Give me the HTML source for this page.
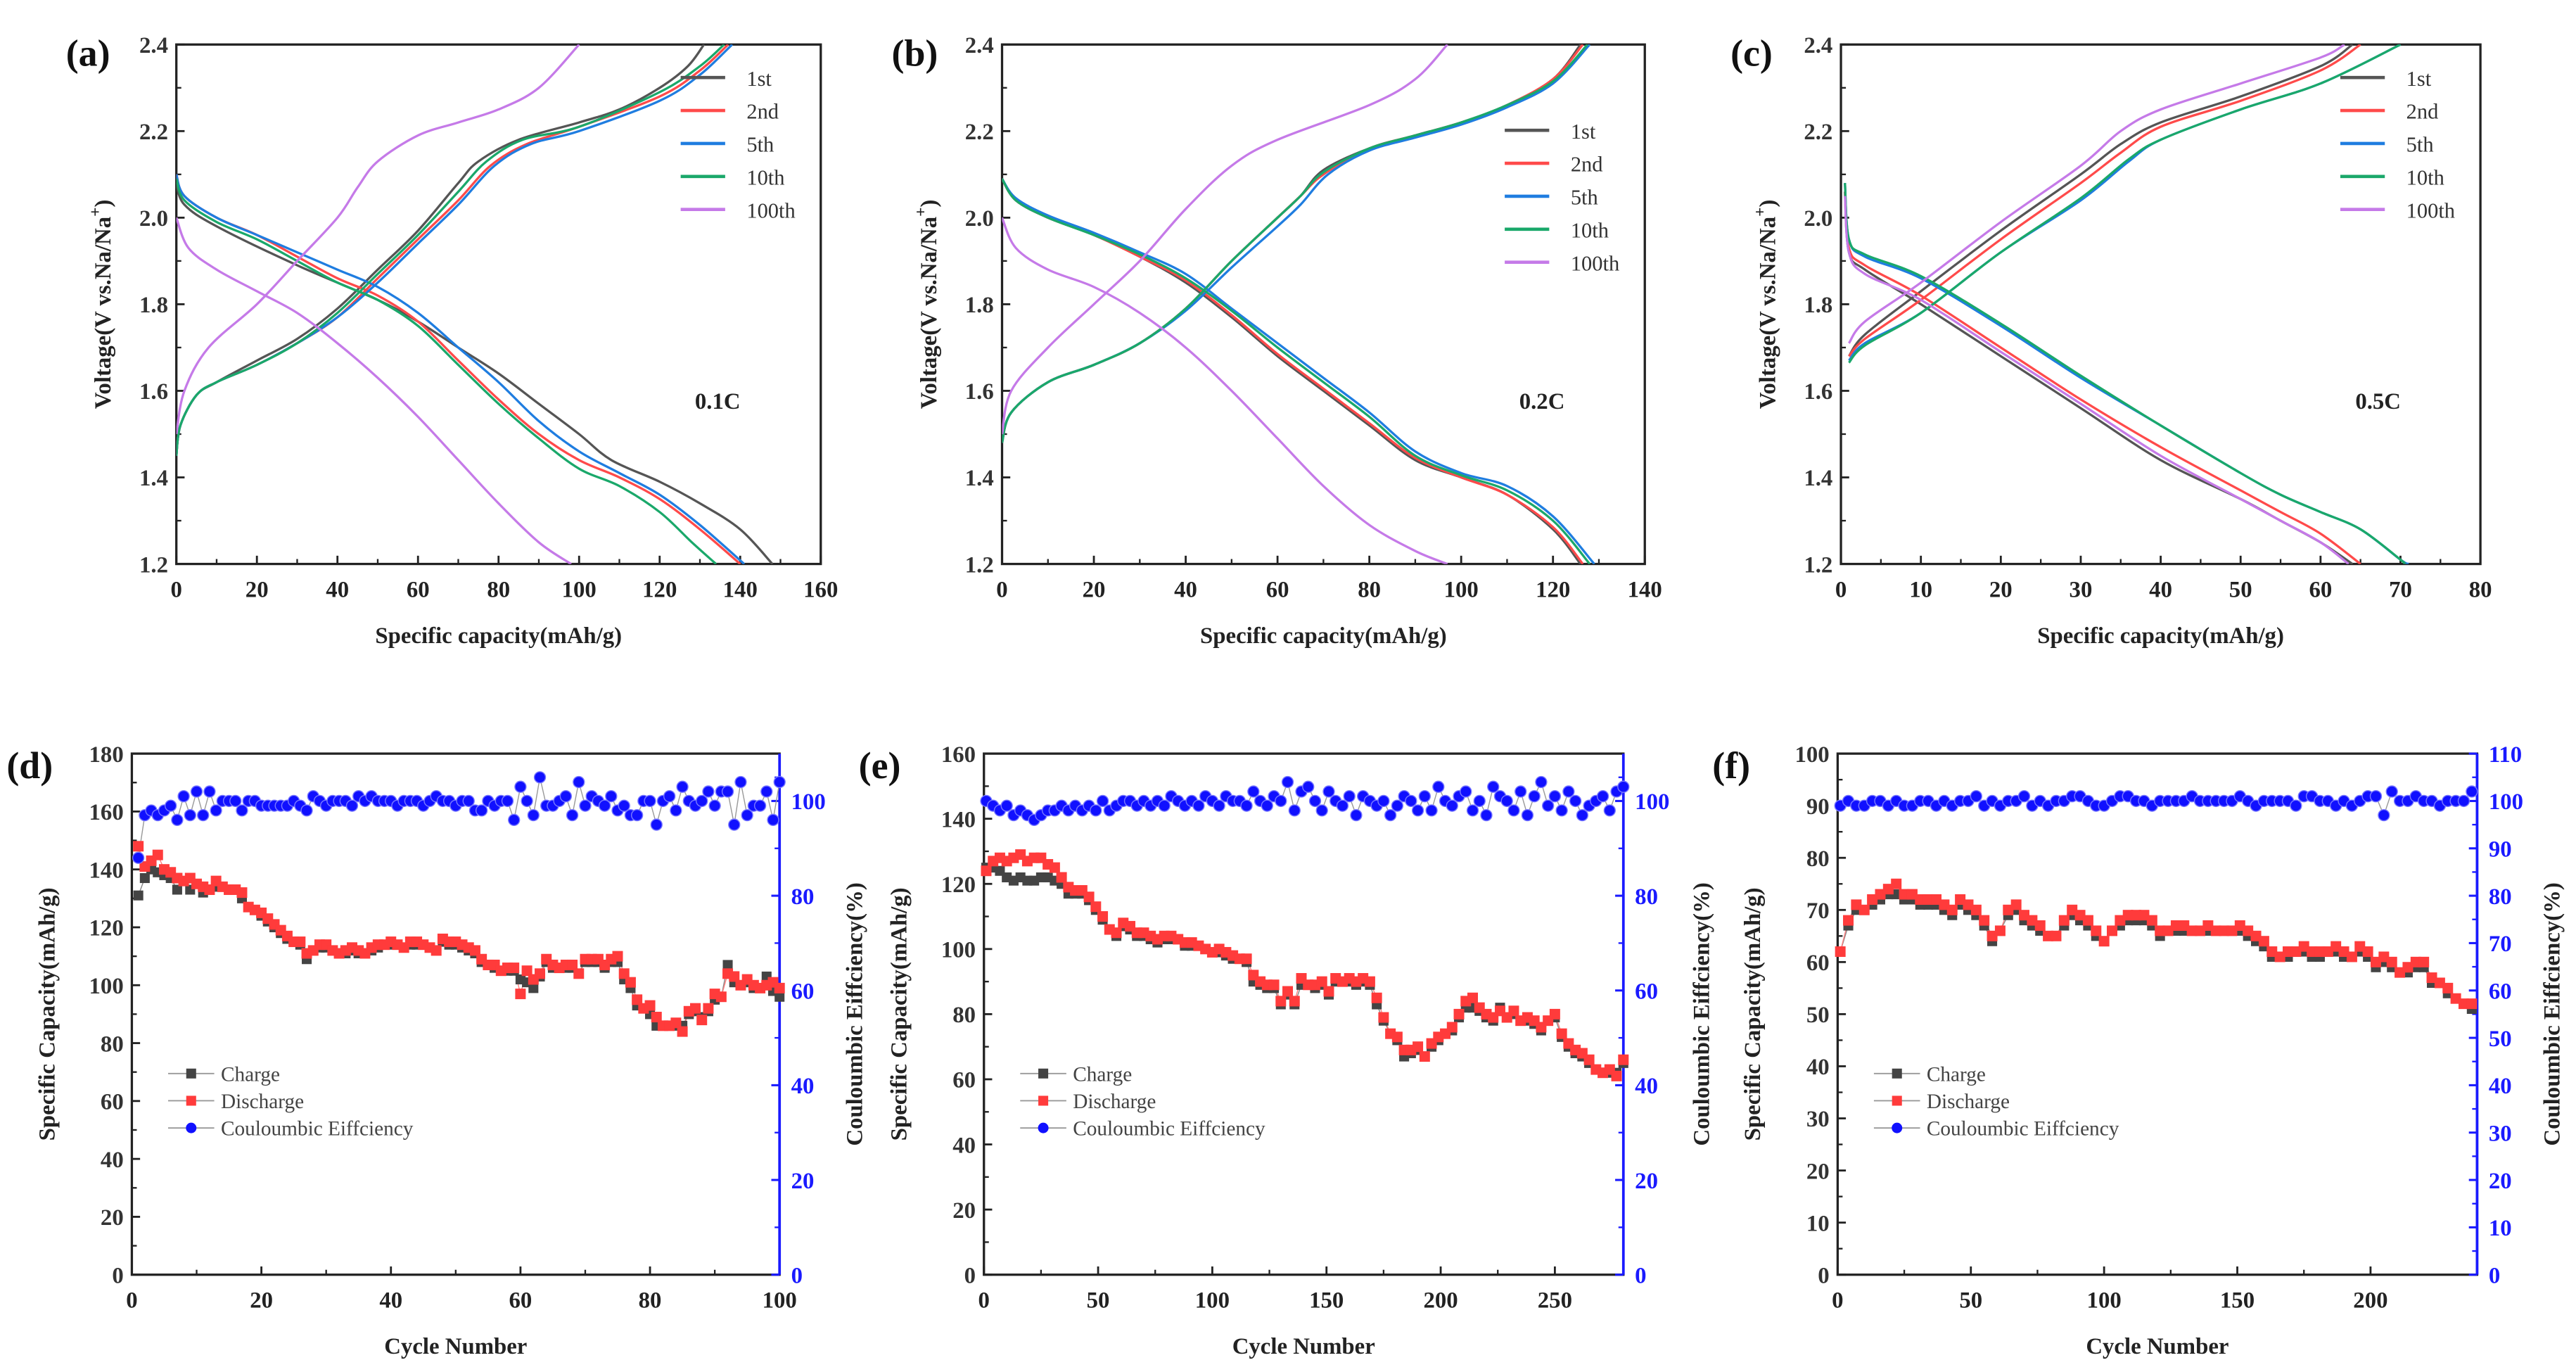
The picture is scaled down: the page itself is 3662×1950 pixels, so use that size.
<!DOCTYPE html>
<html><head><meta charset="utf-8">
<style>
html,body{margin:0;padding:0;background:#fff;}
svg{display:block;}
text{font-family:"Liberation Serif",serif;}
</style></head>
<body>
<svg id="fig" xmlns="http://www.w3.org/2000/svg" width="3662" height="1950" viewBox="0 0 1563 832" preserveAspectRatio="none"></svg>
<script>
// ===== Panel (a) 0.1C voltage profiles: [capacity, voltage]
const aDis1st=[[0,2.08],[2,2.03],[10,1.98],[30,1.89],[50,1.81],[60,1.76],[70,1.7],[80,1.64],[90,1.57],[100,1.5],[108,1.44],[120,1.39],[130,1.34],[140,1.28],[148,1.2]];
const aDis2nd=[[0,2.1],[2,2.05],[10,2.0],[20,1.96],[30,1.91],[40,1.86],[50,1.82],[60,1.76],[70,1.67],[80,1.58],[90,1.5],[100,1.44],[110,1.4],[120,1.35],[130,1.28],[140,1.2]];
const aDis5th=[[0,2.1],[2,2.05],[10,2.0],[20,1.96],[30,1.92],[40,1.88],[50,1.84],[60,1.78],[70,1.7],[80,1.62],[90,1.53],[100,1.46],[110,1.41],[120,1.36],[130,1.29],[141,1.2]];
const aDis10th=[[0,2.09],[2,2.04],[10,1.99],[20,1.95],[30,1.9],[40,1.85],[50,1.81],[60,1.75],[70,1.66],[80,1.57],[90,1.49],[100,1.42],[110,1.38],[120,1.32],[128,1.25],[134,1.2]];
const aDis100th=[[0,2.0],[3,1.93],[10,1.88],[20,1.83],[30,1.78],[40,1.71],[50,1.63],[60,1.54],[70,1.44],[80,1.34],[90,1.25],[98,1.2]];
const aChg1st=[[0,1.45],[1,1.52],[5,1.59],[10,1.62],[20,1.67],[30,1.72],[40,1.79],[50,1.88],[60,1.97],[70,2.08],[75,2.13],[85,2.18],[100,2.22],[110,2.25],[120,2.3],[127,2.35],[131,2.4]];
const aChg2nd=[[0,1.45],[1,1.52],[5,1.59],[10,1.62],[20,1.66],[30,1.71],[40,1.77],[50,1.86],[60,1.95],[70,2.04],[78,2.12],[87,2.17],[100,2.21],[120,2.28],[130,2.34],[137,2.4]];
const aChg5th=[[0,1.45],[1,1.52],[5,1.59],[10,1.62],[20,1.66],[30,1.71],[40,1.77],[50,1.85],[60,1.94],[70,2.03],[79,2.12],[88,2.17],[100,2.2],[120,2.27],[130,2.33],[138,2.4]];
const aChg10th=[[0,1.45],[1,1.52],[5,1.59],[10,1.62],[20,1.66],[30,1.71],[40,1.78],[50,1.87],[60,1.96],[70,2.06],[77,2.13],[86,2.18],[100,2.21],[120,2.29],[130,2.35],[136,2.4]];
const aChg100th=[[0,1.5],[2,1.6],[8,1.7],[20,1.8],[30,1.9],[40,2.0],[45,2.07],[50,2.13],[60,2.19],[70,2.22],[80,2.25],[90,2.3],[100,2.4]];
// ===== Panel (b) 0.2C
const bDis1st=[[0,2.09],[3,2.04],[10,2.0],[20,1.96],[30,1.91],[40,1.85],[50,1.77],[60,1.68],[70,1.6],[80,1.52],[90,1.44],[100,1.4],[110,1.36],[120,1.28],[126,1.2]];
const bDis2nd=[[0,2.09],[3,2.04],[10,2.0],[20,1.96],[30,1.91],[40,1.855],[50,1.775],[60,1.685],[70,1.605],[80,1.525],[90,1.445],[100,1.4],[110,1.36],[120,1.285],[126.5,1.2]];
const bDis5th=[[0,2.09],[3,2.045],[10,2.005],[20,1.965],[30,1.92],[40,1.87],[50,1.79],[60,1.71],[70,1.63],[80,1.55],[90,1.46],[100,1.41],[110,1.38],[120,1.31],[129,1.2]];
const bDis10th=[[0,2.09],[3,2.04],[10,2.0],[20,1.96],[30,1.915],[40,1.86],[50,1.785],[60,1.7],[70,1.62],[80,1.54],[90,1.45],[100,1.405],[110,1.37],[120,1.3],[128,1.2]];
const bDis100th=[[0,2.0],[3,1.93],[10,1.88],[20,1.84],[30,1.78],[40,1.7],[50,1.6],[60,1.49],[70,1.38],[80,1.29],[90,1.23],[97,1.2]];
const bChg1st=[[0,1.48],[2,1.55],[10,1.62],[20,1.66],[30,1.71],[40,1.79],[50,1.9],[60,2.0],[65,2.05],[70,2.11],[80,2.16],[90,2.19],[100,2.22],[110,2.26],[120,2.32],[126,2.4]];
const bChg2nd=[[0,1.48],[2,1.55],[10,1.62],[20,1.66],[30,1.71],[40,1.79],[50,1.9],[60,2.0],[65,2.05],[70,2.1],[80,2.16],[90,2.19],[100,2.22],[110,2.26],[120,2.32],[126.5,2.4]];
const bChg5th=[[0,1.48],[2,1.55],[10,1.62],[20,1.66],[30,1.71],[40,1.785],[50,1.885],[60,1.98],[65,2.03],[71,2.1],[80,2.155],[90,2.185],[100,2.215],[110,2.255],[120,2.31],[128,2.4]];
const bChg10th=[[0,1.48],[2,1.55],[10,1.62],[20,1.66],[30,1.71],[40,1.79],[50,1.9],[60,2.0],[65,2.05],[70,2.105],[80,2.16],[90,2.19],[100,2.22],[110,2.26],[120,2.315],[127.5,2.4]];
const bChg100th=[[0,1.5],[2,1.6],[10,1.7],[20,1.8],[30,1.9],[40,2.02],[50,2.12],[60,2.18],[80,2.26],[90,2.32],[97,2.4]];
// ===== Panel (c) 0.5C
const cDis1st=[[0.5,2.06],[1,1.92],[3,1.88],[10,1.8],[20,1.68],[30,1.56],[40,1.44],[50,1.35],[55,1.3],[60,1.25],[64,1.2]];
const cDis2nd=[[0.5,2.06],[1,1.93],[3,1.89],[10,1.82],[20,1.7],[30,1.58],[40,1.47],[50,1.37],[55,1.32],[60,1.27],[65,1.2]];
const cDis5th=[[0.5,2.08],[1,1.95],[3,1.91],[10,1.86],[20,1.75],[30,1.63],[40,1.52],[50,1.41],[55,1.36],[60,1.32],[65,1.28],[70,1.21],[71,1.2]];
const cDis10th=[[0.5,2.08],[1,1.95],[3,1.915],[10,1.865],[20,1.755],[30,1.635],[40,1.52],[50,1.41],[55,1.36],[60,1.32],[65,1.28],[70,1.21],[70.5,1.2]];
const cDis100th=[[0.5,2.05],[1,1.92],[3,1.87],[10,1.81],[20,1.69],[30,1.57],[40,1.45],[50,1.35],[55,1.3],[60,1.25],[63.5,1.2]];
const cChg1st=[[1,1.68],[3,1.73],[10,1.83],[20,1.97],[30,2.1],[35,2.17],[40,2.22],[50,2.28],[60,2.35],[64,2.4]];
const cChg2nd=[[1,1.68],[3,1.72],[10,1.81],[20,1.95],[30,2.08],[35,2.15],[40,2.21],[50,2.27],[60,2.34],[65,2.4]];
const cChg5th=[[1,1.67],[3,1.71],[10,1.78],[20,1.92],[30,2.04],[36,2.13],[40,2.18],[50,2.25],[60,2.31],[70,2.4]];
const cChg10th=[[1,1.665],[3,1.705],[10,1.78],[20,1.92],[30,2.045],[36,2.135],[40,2.18],[50,2.25],[60,2.31],[70,2.4]];
const cChg100th=[[1,1.71],[3,1.76],[10,1.85],[20,1.99],[30,2.12],[35,2.2],[40,2.25],[50,2.31],[60,2.37],[63,2.4]];
// ===== Panel (d) cycling 0.1C (every cycle from 1)
const dStep=1;
const dDischarge=[148,141,143,145,140,139,137,136,137,135,134,133,136,134,133,133,132,127,126,125,123,121,119,117,115,115,111,112,114,114,112,111,112,113,112,111,113,114,114,115,114,113,115,115,114,113,112,116,115,115,114,113,112,109,107,107,105,106,106,97,105,102,104,109,107,106,107,107,104,109,109,109,107,109,110,104,101,95,92,93,89,86,86,87,84,91,92,88,92,97,96,104,103,100,102,100,99,100,101,99];
const dCharge=[131,137,140,139,138,137,133,136,133,135,132,133,134,134,133,133,130,127,126,124,122,120,118,116,115,114,109,112,113,113,112,111,111,112,111,111,112,113,114,114,114,113,114,114,114,113,112,115,114,114,113,112,111,108,107,106,105,105,105,102,101,99,103,108,106,106,106,106,104,108,108,108,106,108,108,102,99,93,92,90,86,86,86,86,86,90,91,89,91,95,96,107,101,100,101,99,99,103,98,96];
const dCE=[88,97,98,97,98,99,96,101,97,102,97,102,98,100,100,100,98,100,100,99,99,99,99,99,100,99,98,101,100,99,100,100,100,99,101,100,101,100,100,100,99,100,100,100,99,100,101,100,100,99,100,100,98,98,100,99,100,100,96,103,100,97,105,99,99,100,101,97,104,99,101,100,99,101,98,99,97,97,100,100,95,100,101,98,103,100,99,100,102,99,102,102,95,104,97,99,99,102,96,104];
// ===== Panel (e) cycling 0.2C (every 3 cycles from 1)
const eStep=3;
const eDischarge=[124,127,128,127,128,129,127,128,128,126,125,122,119,118,118,116,113,110,106,105,108,107,105,105,104,103,104,104,103,102,102,101,100,99,100,99,98,97,97,92,90,89,89,84,87,84,91,89,89,90,87,91,90,91,90,91,90,85,79,74,73,69,69,70,67,71,73,74,76,80,84,85,82,80,79,81,79,81,78,79,78,76,78,80,74,71,69,68,66,63,62,63,61,66];
const eCharge=[125,125,124,122,121,122,121,121,122,122,121,120,117,117,117,115,112,109,106,104,107,106,104,104,103,102,103,103,103,101,101,101,100,99,99,98,97,97,96,90,89,88,88,83,86,83,89,89,88,89,86,90,90,90,89,90,89,83,78,74,72,67,68,69,67,70,72,74,75,79,82,82,81,79,78,82,79,80,78,78,77,75,78,79,73,70,68,67,65,63,62,62,62,65];
const eCE=[100,99,98,99,97,98,97,96,97,98,98,99,98,99,98,99,98,100,98,99,100,100,99,100,99,100,99,101,100,99,100,99,101,100,99,101,100,100,99,102,100,99,101,100,104,98,102,103,100,98,102,100,99,101,97,101,100,99,100,97,99,101,100,98,101,98,103,100,99,101,102,98,100,97,103,101,100,98,102,97,101,104,99,101,98,102,100,97,99,100,101,98,102,103];
// ===== Panel (f) cycling 0.5C (every 3 cycles from 1)
const fStep=3;
const fDischarge=[62,68,71,70,72,73,74,75,73,73,72,72,72,71,70,72,71,70,68,65,66,70,71,69,68,67,65,65,68,70,69,68,66,64,66,68,69,69,69,68,66,66,67,67,66,66,67,66,66,66,67,66,65,64,62,61,62,62,63,62,62,62,63,62,61,63,62,60,61,60,58,59,60,60,57,56,55,53,52,52];
const fCharge=[62,67,70,70,71,72,73,73,72,72,71,71,71,70,69,71,70,69,67,64,66,69,70,68,67,66,65,65,67,69,68,67,65,64,66,67,68,68,68,67,65,66,66,66,66,66,66,66,66,66,66,65,64,63,61,61,61,62,62,61,61,62,62,61,61,62,61,59,60,59,58,58,59,59,56,56,54,53,52,51];
const fCE=[99,100,99,99,100,100,99,100,99,99,100,100,99,100,99,100,100,101,99,100,99,100,100,101,99,100,99,100,100,101,101,100,99,99,100,101,101,100,100,99,100,100,100,100,101,100,100,100,100,100,101,100,99,100,100,100,100,99,101,101,100,100,99,100,99,100,101,101,97,102,100,100,101,100,100,99,100,100,100,102];
// ===== tick labels
const ticksV=[1.2,1.4,1.6,1.8,2.0,2.2,2.4];
const ticksA=[0,20,40,60,80,100,120,140,160];
const ticksB=[0,20,40,60,80,100,120,140];
const ticksC=[0,10,20,30,40,50,60,70,80];
const ticksD=[0,20,40,60,80,100];
const ticksE=[0,50,100,150,200,250];
const ticksF=[0,50,100,150,200];
const ticksDy=[0,20,40,60,80,100,120,140,160,180];
const ticksEy=[0,20,40,60,80,100,120,140,160];
const ticksFy=[0,10,20,30,40,50,60,70,80,90,100];
const ticksCE=[0,20,40,60,80,100];
const ticksCEf=[0,10,20,30,40,50,60,70,80,90,100,110];
const legendCurves=['1st','2nd','5th','10th','100th'];
const legendCycles=['Charge','Discharge','Couloumbic Eiffciency'];

const NS='http://www.w3.org/2000/svg';
const svg=document.getElementById('fig');
function mk(tag,attrs,parent){const e=document.createElementNS(NS,tag);for(const k in attrs)e.setAttribute(k,attrs[k]);(parent||svg).appendChild(e);return e;}
function txt(s,attrs,parent){const e=mk('text',attrs,parent);e.textContent=s;return e;}
function scale(d0,d1,r0,r1){return v=>r0+(v-d0)/(d1-d0)*(r1-r0);}
function smoothPath(pts){
  let d='M'+pts[0][0].toFixed(2)+','+pts[0][1].toFixed(2);
  for(let i=0;i<pts.length-1;i++){
    const p0=pts[Math.max(0,i-1)],p1=pts[i],p2=pts[i+1],p3=pts[Math.min(pts.length-1,i+2)];
    const c1=[p1[0]+(p2[0]-p0[0])/6,p1[1]+(p2[1]-p0[1])/6];
    const c2=[p2[0]-(p3[0]-p1[0])/6,p2[1]-(p3[1]-p1[1])/6];
    d+='C'+c1[0].toFixed(2)+','+c1[1].toFixed(2)+' '+c2[0].toFixed(2)+','+c2[1].toFixed(2)+' '+p2[0].toFixed(2)+','+p2[1].toFixed(2);
  }
  return d;
}
function fmt(v,dec){return dec?v.toFixed(dec):String(v);}

function axesFrame(g,L,R,T,B,xt,xs,yt,ys,dec,minorX,minorY){
  mk('rect',{x:L,y:T,width:R-L,height:B-T,fill:'none',stroke:'#222','stroke-width':1.4},g);
  xt.forEach(v=>{
    const x=xs(v);
    const tk=mk('line',{x1:x,x2:x,y1:B,y2:B-5,stroke:'#222','stroke-width':1.2},g);
    
    
    const t=txt(fmt(v,0),{x:x,y:B+20,'text-anchor':'middle','font-size':14,'font-weight':'bold',fill:'#222'},g);
    
    
  });
  minorX.forEach(v=>{const x=xs(v);mk('line',{x1:x,x2:x,y1:B,y2:B-3,stroke:'#222','stroke-width':1},g);});
  yt.forEach(v=>{
    const y=ys(v);
    const tk=mk('line',{x1:L,x2:L+5,y1:y,y2:y,stroke:'#222','stroke-width':1.2},g);
    
    
    const t=txt(fmt(v,dec),{x:L-5,y:y+5,'text-anchor':'end','font-size':14,'font-weight':'bold',fill:'#333'},g);
    
    
  });
  minorY.forEach(v=>{const y=ys(v);mk('line',{x1:L,x2:L+3,y1:y,y2:y,stroke:'#222','stroke-width':1},g);});
}
function mids(arr){const o=[];for(let i=0;i<arr.length-1;i++)o.push((arr[i]+arr[i+1])/2);return o;}

const colors=['#555555','#ff4a4a','#1f7de0','#1aa86a','#c57ae8'];

function voltPanel(id,label,L,R,xmax,xt,series,rate,legY){
  const T=27,B=342;
  const g=mk('g',{});
  
  
  const xs=scale(0,xmax,L,R), ys=scale(1.2,2.4,B,T);
  axesFrame(g,L,R,T,B,xt,xs,ticksV,ys,1,mids(xt),mids(ticksV));
  const clip=mk('clipPath',{id:'clip'+id},g);
  mk('rect',{x:L,y:T,width:R-L,height:B-T},clip);
  const cg=mk('g',{'clip-path':'url(#clip'+id+')'},g);
  series.forEach((s,i)=>{
    s.forEach((arr,j)=>{
      const p=mk('path',{d:smoothPath(arr.map(q=>[xs(q[0]),ys(q[1])])),fill:'none',stroke:colors[i],'stroke-width':1.4},cg);
      
      
    });
  });
  legendCurves.forEach((n,i)=>{
    const y=legY+i*20, lx=R-85;
    const ln=mk('line',{x1:lx,x2:lx+27,y1:y,y2:y,stroke:colors[i],'stroke-width':2},g);
    
    
    const t=txt(n,{x:lx+40,y:y+5,'font-size':13,fill:'#333'},g);
    
    
  });
  const r=txt(rate,{x:L+(R-L)*0.84,y:248,'text-anchor':'middle','font-size':14,'font-weight':'bold',fill:'#222'},g);
  
  
  const xl=txt('Specific capacity(mAh/g)',{x:(L+R)/2,y:390,'text-anchor':'middle','font-size':14,'font-weight':'bold',fill:'#222'},g);
  
  
  const yl=mk('text',{transform:'translate('+(L-40)+','+(T+B)/2+') rotate(-90)','text-anchor':'middle','font-size':14,'font-weight':'bold',fill:'#222'},g);
  yl.textContent='Voltage(V vs.Na/Na';
  const sup=mk('tspan',{dy:-6,'font-size':10},yl);sup.textContent='+';
  const cl=mk('tspan',{dy:6},yl);cl.textContent=')';
  
  
  const pl=txt(label,{x:L-67,y:40,'font-size':23,'font-weight':'bold','font-family':'Liberation Sans, sans-serif',fill:'#111'},g);
  
  
}

voltPanel('a','(a)',107,498,160,ticksA,[[aDis1st,aChg1st],[aDis2nd,aChg2nd],[aDis5th,aChg5th],[aDis10th,aChg10th],[aDis100th,aChg100th]],'0.1C',47);
voltPanel('b','(b)',608,998,140,ticksB,[[bDis1st,bChg1st],[bDis2nd,bChg2nd],[bDis5th,bChg5th],[bDis10th,bChg10th],[bDis100th,bChg100th]],'0.2C',79);
voltPanel('c','(c)',1117,1505,80,ticksC,[[cDis1st,cChg1st],[cDis2nd,cChg2nd],[cDis5th,cChg5th],[cDis10th,cChg10th],[cDis100th,cChg100th]],'0.5C',47);

function cyclePanel(id,label,L,R,xmax,xt,ymax,yt,ceT,step,chg,dis,ce,lblRight){
  const T=457,B=773;
  const g=mk('g',{});
  
  
  const xs=scale(0,xmax,L,R), ys=scale(0,ymax,B,T), ys2=scale(0,110,B,T);
  axesFrame(g,L,R,T,B,xt,xs,yt,ys,0,mids(xt),mids(yt));
  // right axis
  const ra=mk('line',{x1:R,x2:R,y1:T,y2:B,stroke:'#1a1aff','stroke-width':1.6},g);
  
  
  ceT.forEach(v=>{
    const y=ys2(v);
    mk('line',{x1:R,x2:R-5,y1:y,y2:y,stroke:'#1a1aff','stroke-width':1.3},g);
    const t=txt(String(v),{x:R+7,y:y+5,'font-size':14,'font-weight':'bold',fill:'#1a1aff'},g);
    
    
  });
  mids(ceT).concat(ceT.length<8?[105]:[]).forEach(v=>{const y=ys2(v);mk('line',{x1:R,x2:R-3,y1:y,y2:y,stroke:'#1a1aff','stroke-width':1},g);});
  const cx=i=>xs(1+i*step);
  // lines
  [[chg,'#888',ys],[dis,'#ff8080',ys],[ce,'#999',ys2]].forEach(([arr,col,sc])=>{
    mk('polyline',{points:arr.map((v,i)=>cx(i).toFixed(2)+','+sc(v).toFixed(2)).join(' '),fill:'none',stroke:col,'stroke-width':0.6},g);
  });
  chg.forEach((v,i)=>{
    const m=mk('rect',{x:cx(i)-3,y:ys(v)-3,width:6,height:6,fill:'#444'},g);
    
    
  });
  dis.forEach((v,i)=>{
    const m=mk('rect',{x:cx(i)-3.2,y:ys(v)-3.2,width:6.4,height:6.4,fill:'#ff3b3b'},g);
    
    
  });
  ce.forEach((v,i)=>{
    const m=mk('circle',{cx:cx(i),cy:ys2(v),r:3.4,fill:'#1010ff',stroke:'#7a7aff','stroke-width':0.6},g);
    
    
  });
  // legend
  const lx=L+36;
  const lg=[['#444','rect'],['#ff3b3b','rect'],['#1010ff','circle']];
  legendCycles.forEach((n,i)=>{
    const y=651+i*16.5;
    mk('line',{x1:lx-14,x2:lx+14,y1:y,y2:y,stroke:'#999','stroke-width':0.8},g);
    if(lg[i][1]==='rect')mk('rect',{x:lx-3,y:y-3,width:6,height:6,fill:lg[i][0]},g);
    else mk('circle',{cx:lx,cy:y,r:3.2,fill:lg[i][0]},g);
    const t=txt(n,{x:lx+18,y:y+4.5,'font-size':12.5,fill:'#444'},g);
    
    
  });
  const xl=txt('Cycle Number',{x:(L+R)/2,y:821,'text-anchor':'middle','font-size':14,'font-weight':'bold',fill:'#222'},g);
  
  
  const yl=txt('Specific Capacity(mAh/g)',{transform:'translate('+(L-47)+',615) rotate(-90)','text-anchor':'middle','font-size':14,'font-weight':'bold',fill:'#222'},g);
  
  
  const y2=txt('Couloumbic Eiffciency(%)',{transform:'translate('+(R+lblRight)+',615) rotate(-90)','text-anchor':'middle','font-size':14,'font-weight':'bold',fill:'#222'},g);
  
  
  const pl=txt(label,{x:L-76,y:472,'font-size':23,'font-weight':'bold','font-family':'Liberation Sans, sans-serif',fill:'#111'},g);
  
  
}
cyclePanel('d','(d)',80,473,100,ticksD,180,ticksDy,ticksCE,dStep,dCharge,dDischarge,dCE,50);
cyclePanel('e','(e)',597,985,280,ticksE,160,ticksEy,ticksCE,eStep,eCharge,eDischarge,eCE,52);
cyclePanel('f','(f)',1115,1503,240,ticksF,100,ticksFy,ticksCEf,fStep,fCharge,fDischarge,fCE,50);
</script>
</body></html>
